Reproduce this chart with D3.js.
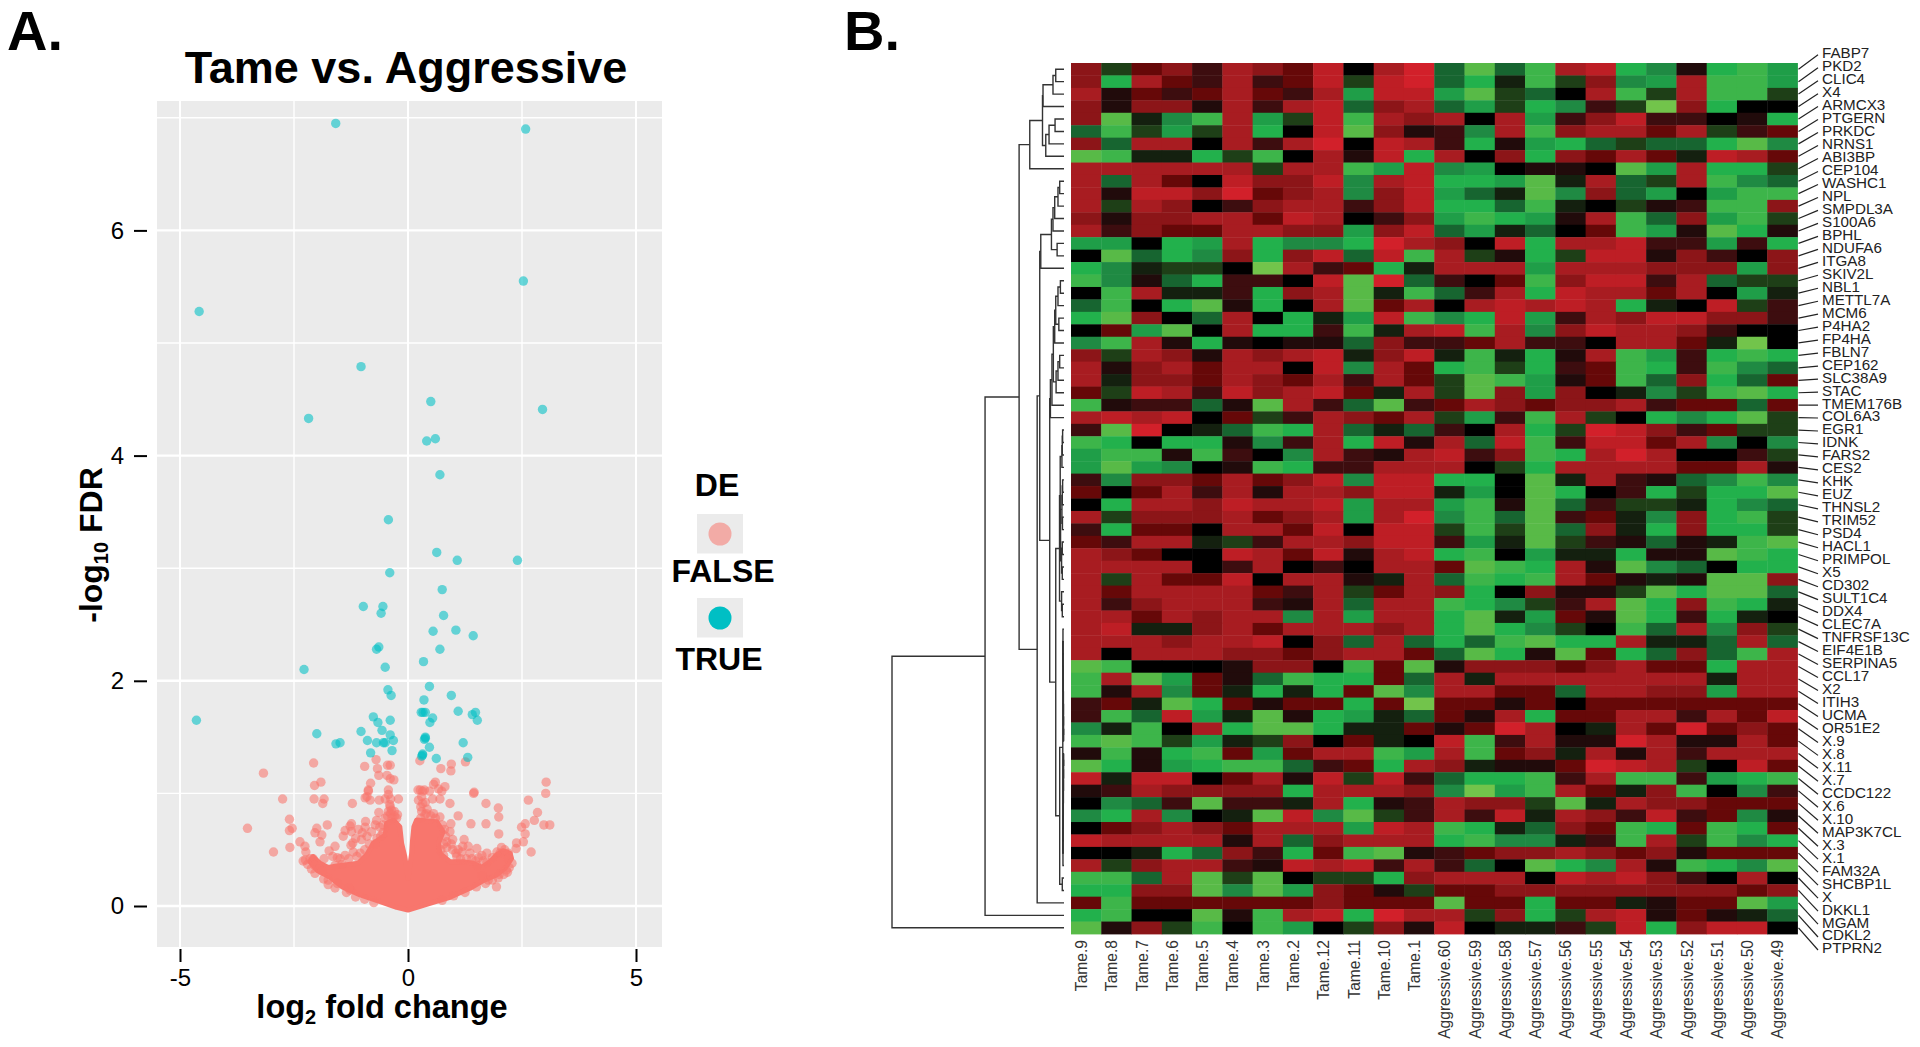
<!DOCTYPE html>
<html><head><meta charset="utf-8">
<script src="https://cdn.jsdelivr.net/npm/d3@7"></script>
<style>
html,body{margin:0;padding:0;background:#fff}
svg{display:block}
text{font-family:"Liberation Sans",Arial,sans-serif}
</style></head><body>
<svg id="c" width="1920" height="1047"></svg>
<script>
// ---------- Panel A data: [log2FC, -log10 FDR] ----------
const deTrue = [[-1.585,6.95],[2.58,6.90],[2.53,5.55],[-4.58,5.28],[-1.03,4.79],[.50,4.48],[2.95,4.41],[-2.18,4.33],[.41,4.13],[.60,4.15],[.70,3.83],[-.43,3.43],
[.63,3.14],[1.08,3.07],[2.40,3.07],[-.40,2.96],[.75,2.81],[-.98,2.66],[-.55,2.66],[-.59,2.60],[.78,2.58],[.55,2.44],[1.05,2.45],[1.43,2.40],[.70,2.28],[-.64,2.30],[-.69,2.28],[.34,2.17],[-.50,2.12],[-2.28,2.10],
[.47,1.95],[-.44,1.92],[-.37,1.87],[.95,1.87],[.35,1.83],[1.10,1.73],[.29,1.72],[.33,1.72],[.38,1.72],[1.48,1.72],[1.41,1.70],[1.52,1.65],[.54,1.67],[.48,1.63],[-.76,1.68],[-.66,1.63],[-.39,1.65],[-4.64,1.65],[-.57,1.56],[-1.03,1.55],[-2.0,1.53],[-.39,1.52],[.38,1.50],[.38,1.49],[.36,1.48],[-.32,1.47],[-.89,1.47],[-.69,1.45],[-.50,1.45],[-.54,1.45],[-1.49,1.45],[-1.58,1.44],[1.21,1.45],[.47,1.41],[-.35,1.38],[-.82,1.36],[.32,1.35],[.32,1.34],[.30,1.33],[.62,1.31],[1.31,1.32]];

const deFalseUpper = [[-2.07,1.27],[-.70,1.30],[-.95,1.24],[-.67,1.22],[-.45,1.25],[-.39,1.25],[.26,1.29],[1.26,1.28],[.95,1.26],[.94,1.20],[.72,1.22],[-3.17,1.18],[-.64,1.16],[-.46,1.16],[-.39,1.13],[-.31,1.12],[.60,1.10],[.56,1.08],[-1.91,1.10],[-2.05,1.07],[-.82,1.09],[3.03,1.10],[3.02,1.0],[.22,1.03],[.36,1.03],[.27,1.03],[.67,1.04],[.81,1.06],[-.87,1.03],[-.43,1.03],[1.44,1.0],[-.90,.97],[-.43,.99],[.30,.97],[.38,.92],[.28,.88],[.30,.84],[.42,.86],[-.40,.90],[-.36,.85],[-.43,.84],[-.30,.80]];
const deFalseLeft = [[-2.75,.95],[-2.06,.95],[-1.84,.95],[-1.87,.91],[-1.22,.91],[-.87,1.02],[-.94,.96],[-.83,.94],[-.63,.94],[-.50,.95],[-.38,.95],[-.21,.95],[-.39,.88],[-.23,.81],[-.38,.82],[-.64,.83],[-.69,.76],[-.93,.75],[-.72,.72],[-1.24,.73],[-1.27,.71],[-.94,.70],[-1.09,.68],[-1.38,.67],[-2.00,.69],[-1.77,.72],[-2.04,.65],[-1.89,.63],[-1.93,.57],[-1.42,.62],[-1.24,.66],[-1.02,.59],[-1.21,.56],[-2.60,.77],[-2.54,.69],[-2.60,.67],[-2.59,.52],[-2.95,.48],[-2.37,.57],[-2.26,.53],[-2.24,.48],[-2.30,.40],[-2.08,.42],[-1.60,.53],[-1.73,.49],[-1.84,.42],[-2.04,.29],[-1.75,.19],[-1.38,.45],[-1.49,.42],[-1.75,.23],[-1.27,.14],[-3.52,.69],
[-.5,.78],[-.55,.72],[-.45,.8],[-.35,.78],[-.3,.84],[-.25,.78],[-.6,.62],[-.68,.6],[-.72,.55],[-.85,.55],[-.95,.5],[-1.05,.47],[-1.12,.44],[-1.2,.48],[-1.3,.42],[-1.45,.37],[-1.6,.36],[-1.55,.43],[-1.65,.44],[-1.25,.54],[-1.15,.6],[-1.0,.65],[-.9,.62],[-.8,.66],[-.62,.7],[-.55,.65],[-2.2,.37],[-2.15,.42],[-2.05,.36],[-1.95,.33],[-1.88,.31],[-2.12,.33],[-2.25,.41],[-1.6,.16],[-1.35,.12],[-1.15,.08],[-.95,.06],[-1.85,.24],[-1.55,.2],[-1.3,.16],[-.75,.03]];
const deFalseRight = [[.32,1.02],[.23,.94],[.32,.91],[.54,.95],[.70,.95],[.47,1.02],[.74,1.02],[1.45,1.01],[.92,.91],[1.71,.91],[1.98,.87],[1.99,.79],[2.64,.94],[2.84,.83],[2.77,.76],[1.10,.80],[1.38,.73],[1.71,.73],[1.99,.64],[.94,.73],[.92,.66],[.98,.59],[.85,.57],[2.57,.73],[2.49,.70],[2.57,.64],[2.53,.57],[2.38,.56],[2.37,.51],[2.70,.48],[1.23,.59],[1.32,.53],[1.18,.48],[.98,.50],[1.51,.51],[1.73,.47],[1.62,.45],[2.20,.47],[2.02,.47],[1.73,.39],[1.36,.47],[1.07,.44],[2.16,.32],[1.98,.25],[1.94,.17],[1.76,.23],[1.51,.36],[.56,.82],[.37,.81],[.70,.79],[2.98,.72],[3.11,.72],
[.75,.72],[.8,.68],[.82,.62],[.78,.55],[.72,.5],[.85,.52],[.95,.55],[1.1,.5],[1.2,.53],[1.28,.42],[1.4,.42],[1.48,.4],[1.55,.43],[1.65,.4],[1.85,.43],[1.95,.48],[2.05,.52],[2.12,.5],[2.2,.42],[2.28,.38],[2.22,.34],[1.05,.47],[1.15,.42],[.78,.45],[.4,.82],[.28,.78],[.5,.8],[.6,.78],[1.7,.2],[1.85,.23],[2.0,.28],[2.1,.28],[1.5,.17],[1.25,.12],[1.0,.09],[.75,.05],[1.62,.27],[2.18,.3]];
// outline of the solid, fully over-plotted body of non-DE genes
const denseOutline = [[0,-.036],[.48,.024],[.92,.077],[1.36,.157],[1.65,.225],[1.94,.275],[2.13,.335],[2.27,.423],[2.24,.468],[2.09,.491],[1.94,.453],[1.80,.394],[1.62,.343],[1.43,.379],[1.21,.394],[.92,.394],[.70,.468],[.67,.557],[.77,.660],[.63,.749],[.19,.764],[.13,.705],[.10,.586],[.08,.468],[0,.246],[-.07,.438],[-.14,.557],[-.18,.705],[-.32,.764],[-.47,.734],[-.50,.631],[-.76,.557],[-.91,.453],[-1.09,.379],[-1.56,.355],[-1.75,.343],[-1.93,.379],[-2.08,.438],[-2.15,.394],[-2.0,.320],[-1.71,.255],[-1.45,.172],[-1.05,.098],[-.61,.038],[-.25,-.012]];

const xTicks = [-5,0,5];
const yTicks = [0,2,4,6];
const legendLabels = ["FALSE","TRUE"];

// ---------- Panel B data ----------
const genes = ["FABP7","PKD2","CLIC4","X4","ARMCX3","PTGERN","PRKDC","NRNS1","ABI3BP","CEP104","WASHC1","NPL","SMPDL3A","S100A6","BPHL","NDUFA6","ITGA8","SKIV2L","NBL1","METTL7A","MCM6","P4HA2","FP4HA","FBLN7","CEP162","SLC38A9","STAC","TMEM176B","COL6A3","EGR1","IDNK","FARS2","CES2","KHK","EUZ","THNSL2","TRIM52","PSD4","HACL1","PRIMPOL","X5","CD302","SULT1C4","DDX4","CLEC7A","TNFRSF13C","EIF4E1B","SERPINA5","CCL17","X2","ITIH3","UCMA","OR51E2","X.9","X.8","X.11","X.7","CCDC122","X.6","X.10","MAP3K7CL","X.3","X.1","FAM32A","SHCBP1L","X","DKKL1","MGAM","CDKL2","PTPRN2"];
const samples = ["Tame.9","Tame.8","Tame.7","Tame.6","Tame.5","Tame.4","Tame.3","Tame.2","Tame.12","Tame.11","Tame.10","Tame.1","Aggressive.60","Aggressive.59","Aggressive.58","Aggressive.57","Aggressive.56","Aggressive.55","Aggressive.54","Aggressive.53","Aggressive.52","Aggressive.51","Aggressive.50","Aggressive.49"];
// expression level: positive = red, negative = green
const expr = [
[4,-2,3,4,2,5,4,3,6,0,5,7,-3,-8,-3,-7,5,6,-6,-4,1,-6,-7,-5],
[4,-6,5,3,2,5,2,3,6,-2,6,7,-3,-6,-1,-7,-2,4,-4,-5,5,-7,-7,-5],
[5,1,3,2,3,5,3,2,5,-5,6,6,-5,-8,-2,-3,0,5,-7,-2,5,-7,-7,-2],
[4,1,4,4,1,5,2,5,6,-3,4,5,-3,-5,-2,-6,-4,2,-2,-9,4,-6,0,0],
[4,-8,-1,-4,-7,5,-5,-2,6,-7,5,4,5,0,5,-5,2,4,6,2,2,0,1,-6],
[-3,-7,-2,-5,-2,5,-6,0,6,-8,4,1,2,-4,5,-7,4,5,5,3,5,-2,2,3],
[4,-3,5,5,0,5,2,5,7,0,6,5,2,-6,1,-5,-6,-3,-2,-3,-3,-6,-8,-4],
[-8,-7,-1,-1,-6,-2,-7,0,5,1,6,-6,5,0,4,-6,4,3,5,3,-1,6,5,3],
[5,5,5,5,5,5,-2,5,5,-7,-5,6,-4,-5,0,1,1,0,-8,-5,5,-6,-6,-2],
[5,-3,5,3,0,6,4,4,6,-4,5,6,-6,-6,-5,-8,-1,5,-3,-2,5,-7,-4,-3],
[5,1,6,6,4,7,3,4,5,-4,4,6,-5,-3,-1,-8,-4,4,-3,-5,0,-5,-7,-7],
[5,-2,5,4,0,2,4,5,5,2,4,6,-6,-6,-3,-7,-1,0,-2,1,2,-7,-7,4],
[4,1,4,4,5,5,3,6,5,0,2,4,-5,-7,-6,-5,1,5,-7,-3,4,-5,-7,-2],
[5,2,4,3,3,5,5,4,4,-5,4,6,-3,-5,-1,-3,0,3,-7,-5,1,-8,-6,1],
[-5,-5,0,-6,-5,5,-6,-4,-4,-6,7,5,4,0,6,-6,5,5,6,2,2,-5,2,-6],
[0,-8,-3,-6,-4,4,-6,4,6,-3,6,-7,5,-2,1,-6,-2,6,6,1,4,2,0,4],
[-6,-4,-1,-2,-2,0,-9,5,2,3,-6,-1,5,5,5,-5,5,5,5,4,4,4,-5,4],
[-7,-4,1,-3,-6,2,2,0,6,-8,7,-3,2,0,3,-7,4,6,6,2,5,-3,-2,-2],
[0,-7,5,-1,-1,2,-6,4,5,-8,-1,-7,-3,2,5,-6,6,5,5,3,5,0,-5,-1],
[-3,-7,0,-6,-8,1,-6,0,5,-8,3,5,0,5,6,5,6,5,-6,-1,0,6,-2,2],
[-6,-8,4,0,-3,5,0,-6,-1,-5,6,-7,-4,-6,6,-5,2,5,4,6,6,4,4,2],
[0,3,-5,-8,0,5,-6,-6,2,-7,-1,5,6,-7,5,-4,4,6,5,5,4,2,0,0],
[-4,-7,5,1,-6,1,0,1,1,-3,4,2,2,3,5,2,2,0,5,5,3,-1,-9,0],
[4,-2,5,4,1,5,4,5,6,-1,4,6,-1,-7,-1,-6,1,5,-7,-5,2,-6,-7,-6],
[5,1,4,5,3,5,5,0,6,-4,5,3,-6,-7,-2,-6,2,3,-7,-6,2,-7,-4,-3],
[5,-1,4,4,3,5,4,3,5,2,5,3,-2,-8,-7,-5,1,3,-7,-3,4,-6,-3,3],
[3,-2,6,5,2,6,4,5,6,3,-1,5,-2,-8,4,-5,4,0,-1,-4,-2,-7,-8,-6],
[-7,1,2,2,-3,1,-8,5,2,-3,-8,2,3,5,4,3,4,4,5,2,3,3,-3,3],
[5,6,5,6,0,3,-2,2,5,4,3,5,-2,-5,2,-7,5,-2,0,-6,-4,-6,-8,-2],
[2,-8,7,0,-1,-3,-7,-6,5,-3,-1,-3,2,0,5,-6,-2,7,6,4,2,3,-2,-2],
[-7,-6,0,-6,-6,1,-4,2,5,-6,6,1,5,-3,6,-7,2,6,6,3,5,-4,0,-4],
[-5,-7,-7,1,-7,2,0,-4,5,2,1,5,6,2,4,-7,-6,5,7,5,0,0,2,-2],
[-5,-8,-5,-4,0,1,-7,-6,2,2,5,5,5,0,-2,-6,5,5,5,5,3,3,5,1],
[2,-4,4,4,3,5,3,4,6,-4,6,6,-6,-6,0,-8,-1,5,2,1,-3,-4,-7,-4],
[3,0,3,5,2,5,1,5,5,4,6,6,-1,-5,0,-8,-6,0,2,-6,-2,-6,-6,-8],
[0,-6,5,5,4,6,5,5,6,-5,5,5,-5,-7,1,-8,-3,2,-2,-2,-1,-6,-4,-3],
[5,-2,4,4,4,5,3,4,5,-5,5,7,-4,-7,-3,-8,2,3,-1,-4,4,-6,-7,-2],
[2,-6,3,3,0,5,5,3,6,0,6,6,-2,-7,-2,-8,-3,4,-1,-6,4,-6,-6,-2],
[3,2,5,5,-1,-2,2,5,5,4,6,6,2,-5,-1,-8,-2,2,1,-3,1,-1,-7,-8],
[5,4,3,0,0,6,5,3,6,1,5,6,-6,-7,0,-5,-1,-1,-6,1,1,-8,-7,-6],
[5,5,5,5,0,2,5,0,2,0,5,5,3,-8,-7,-6,5,1,-8,-4,-3,0,-6,-6],
[5,-2,5,3,3,6,0,5,5,1,-1,5,-3,-7,-6,-7,5,3,1,-1,1,-8,-8,4],
[5,3,5,5,5,5,3,2,5,-2,3,5,4,-6,0,4,1,1,-2,-8,-6,-8,-8,-3],
[5,2,4,5,5,5,2,1,5,-3,5,5,-7,-6,-4,-2,2,5,-8,-6,4,-7,-6,-1],
[5,5,3,5,4,5,5,-4,5,-5,5,5,-6,-8,-1,-5,3,1,-8,-6,2,-6,-1,0],
[5,6,-1,-1,4,5,3,5,5,5,4,5,-6,-8,-6,-4,-2,0,-7,-3,5,-4,4,-2],
[5,5,5,4,5,5,6,0,4,-3,5,-3,-6,-3,-7,-8,-6,-6,5,-1,-1,-3,5,-3],
[5,0,5,5,5,4,4,3,4,5,5,3,-3,-8,-6,1,-8,3,-6,-3,4,-3,-7,5],
[-8,-7,0,0,0,1,4,4,0,-7,3,-8,1,4,4,4,3,4,5,3,3,-6,5,5],
[-7,5,-8,-5,3,1,-3,-7,-6,-6,3,-3,5,-1,5,5,5,5,5,5,5,-1,5,5],
[-7,1,5,-4,3,-1,-6,-1,-6,3,-8,-4,5,5,3,3,-3,5,5,4,4,-5,5,5],
[2,3,-1,-8,-6,3,1,3,3,-6,3,-9,3,3,1,3,0,3,3,3,3,3,3,3],
[2,-7,-3,6,-5,-1,-8,1,-6,-5,-1,-3,3,1,5,-6,3,3,5,5,2,5,3,6],
[-4,-1,-7,0,5,-6,-8,-8,-6,-1,-1,3,1,3,7,5,0,-1,5,3,7,3,4,3],
[-7,-8,-7,-2,-5,-1,-2,4,0,3,-1,0,6,-7,2,5,1,1,7,5,1,1,5,3],
[1,-7,1,-6,-7,3,-5,3,5,5,-7,-5,5,-7,3,4,-1,5,1,5,2,5,5,5],
[-8,-6,1,-5,-6,-7,-7,-3,2,3,-6,5,4,-1,1,1,3,7,6,5,-2,0,6,3],
[6,-1,6,6,0,3,5,1,6,-2,6,2,-3,-6,-6,-7,2,5,-7,-7,2,-5,-6,-7],
[1,2,5,4,4,4,4,-6,5,5,5,4,-4,-9,-5,-7,5,3,-1,4,-7,0,-4,2],
[0,-4,-3,2,-8,2,2,-1,5,-6,1,2,5,4,4,-2,-8,-1,5,4,4,3,3,3],
[-4,-6,5,-4,0,-1,-8,6,-4,-8,-2,2,5,2,6,-1,5,4,2,6,2,3,-4,1],
[0,3,4,5,4,3,5,5,5,-5,6,5,-7,-6,-1,-3,4,3,-7,-6,3,-7,-6,3],
[6,5,5,5,5,1,5,-3,4,5,5,5,-6,-7,-4,-4,-1,2,-7,5,-2,-7,-4,-6],
[0,0,-1,-6,-3,4,2,-6,3,-7,-8,1,2,3,4,4,5,4,3,4,1,3,3,3],
[5,-2,4,5,5,2,1,6,5,6,2,5,2,-3,0,-8,-6,-4,5,1,-7,-6,-4,-8],
[-7,-7,-3,5,-8,-2,-8,0,-2,-2,-6,4,5,5,5,0,6,5,6,4,2,0,5,0],
[-6,-6,4,4,-8,-4,-8,-5,4,3,1,-2,3,3,4,4,4,4,4,4,4,4,3,4],
[3,-7,3,3,3,3,3,3,4,3,3,3,-8,3,3,-6,3,3,-1,1,3,3,-8,-5],
[-6,-7,0,0,-8,1,-7,5,6,-6,7,5,5,-2,4,-6,-2,5,6,1,3,1,-1,-3],
[-8,1,4,-2,-7,0,-7,-5,0,-2,4,1,6,0,-1,-1,2,-2,6,-6,4,6,6,0]
];
const colorLevels = [-9,-8,-7,-6,-5,-4,-3,-2,-1,0,1,2,3,4,5,6,7];
const colorRamp = ["#72C44B","#58BA47","#3DB54A","#22B14C","#1F9E48","#1F8A43","#176530","#1E3F17","#14200F","#000000","#210B0B","#3D0D0F","#660808","#8C1518","#A81C21","#BE1E25","#D2202A"];

// Row dendrogram: [height, child, child]; a number is a leaf (row number)
const clusterR = [.26,[.22,[.12,[.1,[.08,30,31],32],33],[.2,[.12,[.1,[.08,34,35],36],[.09,37,38]],[.14,[.1,39,40],[.1,41,42]]]],[.14,43,[.1,44,45]]];
const clusterChainTop = [.06,46,[.055,47,[.05,48,[.045,49,[.04,50,[.035,51,[.03,52,[.025,53,[.02,54,55]]]]]]]]];
const clusterChainBottom = [.06,[.055,[.05,[.045,[.04,[.035,[.03,[.025,[.02,56,57],58],59],60],61],62],63],64],65];
const clusterS = [.25,[.07,clusterChainTop,clusterChainBottom],[.1,66,67]];
const clusterN = [.48,clusterR,clusterS];
const clusterP = [.54,[.48,[.35,[.21,18,19],20],[.3,21,22]],23];
const clusterQ = [.46,[.35,[.25,24,25],26],27];
const clusterM = [.79,[.7,[.62,clusterP,clusterQ],28],29];
const clusterI = [1.35,[.73,[.64,[.54,[.35,[.25,10,11],12],13],14],[.4,15,16]],17];
const clusterH = [1.41,clusterI,[.83,clusterM,clusterN]];
const clusterC = [1.99,[1.25,[1.22,[.64,[.48,1,2],3],4],[1.06,[.87,[.52,5,6],7],8]],9];
const clusterRoot = [10,[4.59,[2.61,clusterC,[1.56,clusterH,68]],69],70];

// ---------- Drawing ----------
const svg = d3.select("#c");
const x = d3.scaleLinear().domain([-5,5]).range([180,636]);
const y = d3.scaleLinear().domain([0,7]).range([906,117.8]);
const P = {l:157,r:662,t:101,b:947};

svg.append("rect").attr("x",P.l).attr("y",P.t).attr("width",P.r-P.l).attr("height",P.b-P.t).attr("fill","#EBEBEB");
const grid = svg.append("g").attr("stroke","#fff");
[1,3,5,7].forEach(v=>grid.append("line").attr("x1",P.l).attr("x2",P.r).attr("y1",y(v)).attr("y2",y(v)).attr("stroke-width",1.4));
yTicks.forEach(v=>grid.append("line").attr("x1",P.l).attr("x2",P.r).attr("y1",y(v)).attr("y2",y(v)).attr("stroke-width",2.4));
[-2.5,2.5].forEach(v=>grid.append("line").attr("y1",P.t).attr("y2",P.b).attr("x1",x(v)).attr("x2",x(v)).attr("stroke-width",1.4));
xTicks.forEach(v=>grid.append("line").attr("y1",P.t).attr("y2",P.b).attr("x1",x(v)).attr("x2",x(v)).attr("stroke-width",2));

// dense body
svg.append("path").datum(denseOutline)
  .attr("d",d3.line().x(d=>x(d[0])).y(d=>y(d[1])).curve(d3.curveLinearClosed))
  .attr("fill","#F8766D").attr("stroke","#F8766D").attr("stroke-width",5).attr("stroke-linejoin","round");
const pts = (data,col)=>svg.append("g").selectAll("circle").data(data).join("circle")
  .attr("cx",d=>x(d[0])).attr("cy",d=>y(d[1])).attr("r",4.7).attr("fill",col).attr("fill-opacity",.58);
pts(deFalseUpper,"#F8766D"); pts(deFalseLeft,"#F8766D"); pts(deFalseRight,"#F8766D"); pts(deTrue,"#00BFC4");

// axes
const axL = svg.append("g").attr("transform",`translate(147,0)`)
  .call(d3.axisLeft(y).tickValues(yTicks).tickSize(13).tickPadding(10).tickFormat(String));
const axB = svg.append("g").attr("transform",`translate(0,949)`)
  .call(d3.axisBottom(x).tickValues(xTicks).tickSize(13).tickPadding(7).tickFormat(String));
[axL,axB].forEach(a=>{a.select(".domain").remove();
  a.selectAll("line").attr("stroke","#000").attr("stroke-width",2);
  a.selectAll("text").attr("fill","#000").style("font-size","24px").style("font-family",'"Liberation Sans",Arial,sans-serif');});

const bold = (t,px,tx,ty,anchor="middle")=>svg.append("text").text(t).attr("x",tx).attr("y",ty)
  .attr("text-anchor",anchor).attr("font-weight","bold").attr("font-size",px).attr("fill","#000");
bold("A.",56,7,50,"start");
bold("B.",56,844,50,"start");
bold("Tame vs. Aggressive",45,406,83);

const xl = svg.append("text").attr("x",382).attr("y",1018).attr("text-anchor","middle").attr("font-weight","bold").attr("font-size",32.5);
xl.append("tspan").text("log");
xl.append("tspan").text("2").attr("font-size",20).attr("dy",6);
xl.append("tspan").text(" fold change").attr("dy",-6);
const yl = svg.append("text").attr("transform","translate(102,545) rotate(-90)").attr("text-anchor","middle").attr("font-weight","bold").attr("font-size",32);
yl.append("tspan").text("-log");
yl.append("tspan").text("10").attr("font-size",20).attr("dy",6);
yl.append("tspan").text(" FDR").attr("dy",-6);

// legend
bold("DE",32,717,496);
const legendY = d3.scalePoint().domain(legendLabels).range([534,618]);
legendLabels.forEach((l,i)=>{
  const cy = legendY(l);
  svg.append("rect").attr("x",697).attr("y",cy-20).attr("width",46).attr("height",39.5).attr("fill","#EBEBEB");
  svg.append("circle").attr("cx",720).attr("cy",cy).attr("r",11.5).attr("fill",i?"#00BFC4":"#F8766D").attr("fill-opacity",i?1:.55);
  bold(l,32,i?719:723,cy+(i?52:48));
});

// ---------- heatmap ----------
const H = {l:1071,r:1797.5,t:63,b:934};
const cx = d3.scaleBand().domain(samples).range([H.l,H.r]);
const cy = d3.scaleBand().domain(d3.range(1,genes.length+1)).range([H.t,H.b]);
const color = d3.scaleLinear().domain(colorLevels).range(colorRamp);
expr.forEach((row,r)=>{
  svg.append("g").selectAll("rect").data(row).join("rect")
    .attr("x",(d,i)=>cx(samples[i])).attr("y",cy(r+1))
    .attr("width",cx.bandwidth()+.4).attr("height",cy.bandwidth()+.4)
    .attr("fill",d=>color(d));
});

// gene labels with leader lines
const ly = d3.scalePoint().domain(genes).range([52.7,948]);
genes.forEach((g,i)=>{
  svg.append("line").attr("x1",H.r+1).attr("x2",1818).attr("y1",cy(i+1)+cy.bandwidth()/2).attr("y2",ly(g)+2)
    .attr("stroke","#222").attr("stroke-width",1.2);
  svg.append("text").text(g).attr("x",1822).attr("y",ly(g)).attr("dy","0.36em")
    .attr("font-size",15.2).attr("fill","#222");
});
// sample labels
samples.forEach(s=>{
  svg.append("text").text(s).attr("text-anchor","end")
    .attr("transform",`translate(${cx(s)+cx.bandwidth()/2+1},940) rotate(-90)`)
    .attr("font-size",15.6).attr("fill","#333");
});

// dendrogram
const root = d3.hierarchy(clusterRoot,d=>Array.isArray(d)?d.slice(1):null);
const hx = d3.scaleLinear().domain([0,10]).range([1064,892]);
root.eachAfter(n=>{
  if(n.children){n.py=d3.mean(n.children,c=>c.py);n.px=hx(n.data[0]);}
  else{n.py=cy(n.data)+cy.bandwidth()/2;n.px=hx(0);}
});
const seg = d3.line();
const dg = svg.append("g").attr("fill","none").attr("stroke","#333").attr("stroke-width",1.4);
root.each(n=>{ if(!n.children) return;
  const [a,b]=n.children;
  dg.append("path").attr("d",seg([[a.px,a.py],[n.px,a.py],[n.px,b.py],[b.px,b.py]]));
});
</script>
</body></html>
